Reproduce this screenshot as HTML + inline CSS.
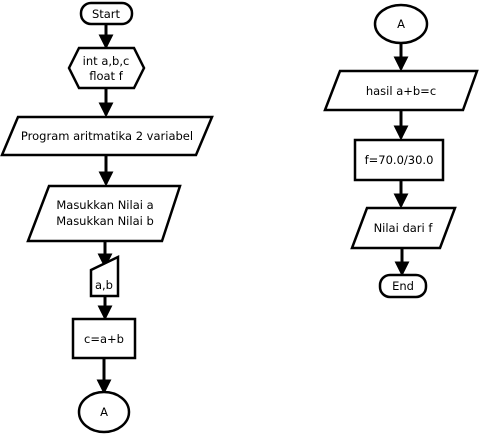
<!DOCTYPE html>
<html><head><style>html,body{margin:0;padding:0;background:#fff;width:479px;height:436px;overflow:hidden}</style></head>
<body>
<svg width="479" height="436" viewBox="0 0 479 436" xmlns="http://www.w3.org/2000/svg" font-family="'DejaVu Sans','Liberation Sans',sans-serif" font-size="11.5" fill="#000">
<defs><marker id="ah" markerWidth="5" markerHeight="5" refX="4.2" refY="2.5" orient="auto" markerUnits="strokeWidth"><path d="M0,0 L5,2.5 L0,5 Z" fill="#000"/></marker></defs>
<g stroke="#000" stroke-width="3" fill="none">
<line x1="106" y1="24" x2="106" y2="47" marker-end="url(#ah)"/>
<line x1="106" y1="89" x2="106" y2="115" marker-end="url(#ah)"/>
<line x1="106" y1="155" x2="106" y2="184" marker-end="url(#ah)"/>
<line x1="105" y1="241" x2="105" y2="266" marker-end="url(#ah)"/>
<line x1="105" y1="296" x2="105" y2="318" marker-end="url(#ah)"/>
<line x1="104" y1="358" x2="104" y2="392" marker-end="url(#ah)"/>
<line x1="401" y1="43" x2="401" y2="69" marker-end="url(#ah)"/>
<line x1="401" y1="110" x2="401" y2="138" marker-end="url(#ah)"/>
<line x1="401" y1="180" x2="401" y2="206" marker-end="url(#ah)"/>
<line x1="402" y1="248" x2="402" y2="274" marker-end="url(#ah)"/>
</g>
<g stroke="#000" stroke-width="2.5" fill="#fff">
<rect x="81" y="3" width="51" height="21" rx="10"/>
<polygon points="69,68 79,48 134,48 144,68 134,88 79,88"/>
<polygon points="18,117 212,117 196,155 2,155"/>
<polygon points="49,186 180,186 162,241 28,241"/>
<polygon points="91,270 118,257 118,296 91,296"/>
<rect x="73" y="319" width="62" height="39"/>
<ellipse cx="104" cy="412" rx="25" ry="20"/>
<ellipse cx="401" cy="24" rx="26" ry="19"/>
<polygon points="340,71 477,71 463,110 325,110"/>
<rect x="355" y="140" width="88" height="40"/>
<polygon points="367,208 455,208 440,248 352,248"/>
<rect x="380" y="275" width="46" height="22" rx="10"/>
</g>
<g text-anchor="middle" stroke="none">
<text x="106" y="18">Start</text>
<text x="106" y="65">int a,b,c</text>
<text x="106" y="80">float f</text>
<text x="107" y="140">Program aritmatika 2 variabel</text>
<text x="105" y="209">Masukkan Nilai a</text>
<text x="105" y="225">Masukkan Nilai b</text>
<text x="104" y="289">a,b</text>
<text x="104" y="343">c=a+b</text>
<text x="104" y="416">A</text>
<text x="401" y="28">A</text>
<text x="401" y="95">hasil a+b=c</text>
<text x="399" y="164">f=70.0/30.0</text>
<text x="403" y="232">Nilai dari f</text>
<text x="403" y="290">End</text>
</g>
</svg>
</body></html>
